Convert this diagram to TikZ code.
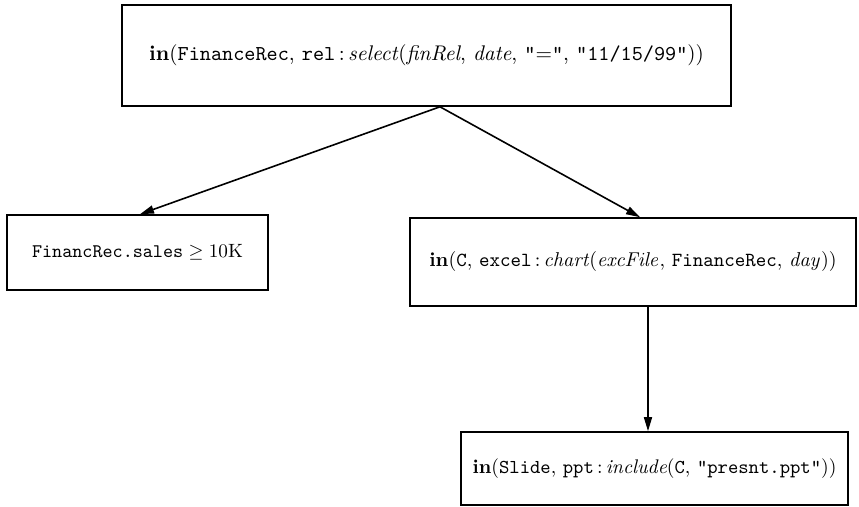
\documentclass[tikz,border=0pt]{standalone}
\usetikzlibrary{arrows.meta}
\newcommand{\boxtext}[2][2.0]{\scalebox{#1}{\fontsize{10}{12}\selectfont #2}}
\begin{document}
\begin{tikzpicture}[x=1pt,y=1pt,
  box/.style={draw, line width=1.6pt, inner sep=0pt},
  arr/.style={line width=1.6pt, -{Triangle[length=14pt,width=8pt]}}]
\useasboundingbox (0,0) rectangle (859,506);
\node[box, minimum width=609pt, minimum height=101pt] (top) at (426.5,450.5)
  {\boxtext[2.12]{\textbf{in}(\texttt{FinanceRec}, \texttt{rel}\,:\,\textit{select}(\textit{finRel}, \textit{date}, \texttt{"}$=$\texttt{"}, \texttt{"11/15/99"}))}};
\node[box, minimum width=261pt, minimum height=75pt] (left) at (137.5,253.5)
  {\boxtext[1.92]{$\texttt{FinancRec.sales} \geq 10\mathrm{K}$}};
\node[box, minimum width=446pt, minimum height=88pt] (mid) at (633,244)
  {\boxtext{\textbf{in}(\texttt{C}, \texttt{excel}\,:\,\textit{chart}($\mathit{excFile}$, \texttt{FinanceRec}, $\mathit{day}$))}};
\node[box, minimum width=387pt, minimum height=73pt] (bot) at (654.5,37.5)
  {\boxtext[1.97]{\textbf{in}(\texttt{Slide}, \texttt{ppt}\,:\,\textit{include}(\texttt{C}, \texttt{"presnt.ppt"}))}};
\coordinate (xs) at (440,0);
\coordinate (xl) at (140,0);
\coordinate (xm) at (640,0);
\coordinate (xv) at (648,0);
\coordinate (s) at (top.south -| xs);
\coordinate (tl) at (left.north -| xl);
\coordinate (tm) at (mid.north -| xm);
\coordinate (vs) at (mid.south -| xv);
\coordinate (vt) at (bot.north -| xv);
\draw[arr] (s) -- (tl);
\draw[arr] (s) -- (tm);
\draw[arr] (vs) -- (vt);
\end{tikzpicture}
\end{document}
